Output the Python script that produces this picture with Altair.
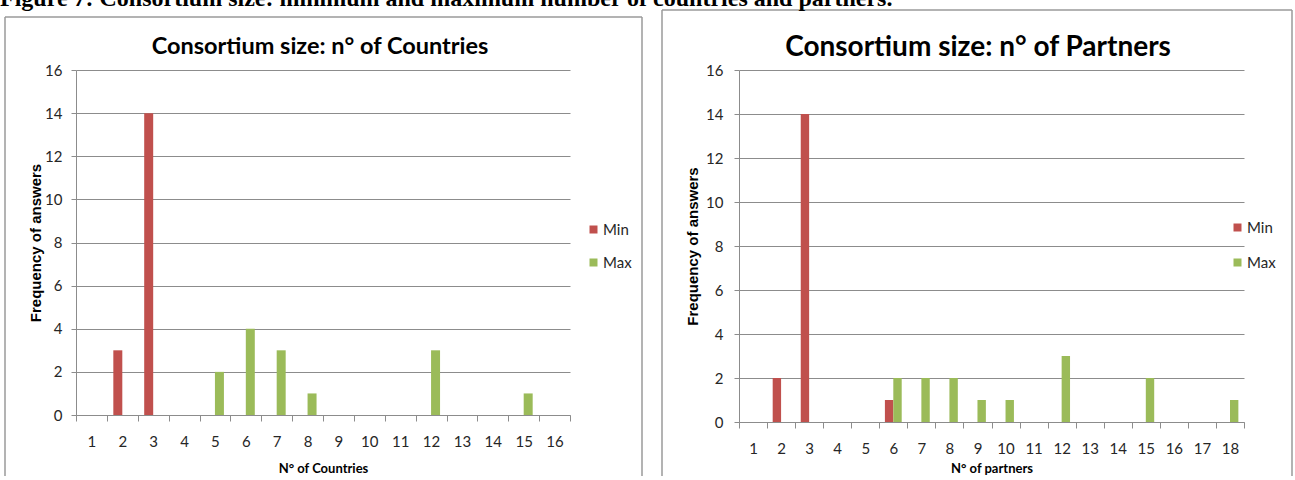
import altair as alt
import pandas as pd

# Consortium size measured in countries (x = size, value = number of answers)
country_axis = list(range(1, 17))
country_min_sizes = [2, 3]
country_min_counts = [3, 14]
country_max_sizes = [5, 6, 7, 8, 12, 15]
country_max_counts = [2, 4, 3, 1, 3, 1]

# Consortium size measured in partners
partner_axis = list(range(1, 19))
partner_min_sizes = [2, 3, 6]
partner_min_counts = [2, 14, 1]
partner_max_sizes = [6, 7, 8, 9, 10, 12, 15, 18]
partner_max_counts = [2, 2, 2, 1, 1, 3, 2, 1]

series_names = ["Min", "Max"]
series_colors = ["#C0504D", "#9BBB59"]
y_ticks = list(range(0, 17, 2))

caption_text = ("Figure 7: Consortium size: minimum and maximum number of "
                "countries and partners.")

SANS = "Lato"
GRID = "#8c8c8c"
FRAME = "#9a9a9a"
INK = "#262626"
W, H = 1295, 476

one = pd.DataFrame({"k": [0]})


def long_table(min_sizes, min_counts, max_sizes, max_counts):
    rows = [{"size": s, "series": "Min", "count": c}
            for s, c in zip(min_sizes, min_counts)]
    rows += [{"size": s, "series": "Max", "count": c}
             for s, c in zip(max_sizes, max_counts)]
    return pd.DataFrame(rows)


def border(x0, x1, y0):
    """Left, top and right edges of a chart area."""
    style = dict(color=FRAME, strokeWidth=1.5)
    return [
        alt.Chart(one).mark_rule(**style).encode(
            x=alt.value(x0), y=alt.value(y0), y2=alt.value(H)),
        alt.Chart(one).mark_rule(**style).encode(
            x=alt.value(x0), x2=alt.value(x1), y=alt.value(y0)),
        alt.Chart(one).mark_rule(**style).encode(
            x=alt.value(x1), y=alt.value(y0), y2=alt.value(H)),
    ]


def label(text, x, y, size, font=SANS, weight="bold", align="center"):
    return alt.Chart(one).mark_text(
        text=text, font=font, fontSize=size, fontWeight=weight,
        color="#000000", align=align, baseline="alphabetic",
    ).encode(x=alt.value(x), y=alt.value(y))


def bars(table, categories, x_range, y_range, offset_pad, x_title,
         x_title_y, y_title_x, y_label_pad, legend_x, legend_y, legend_gap):
    x_axis_offset = y_range[0] - H
    y_axis_offset = -x_range[0]
    return alt.Chart(table).mark_bar().encode(
        x=alt.X(
            "size:O",
            scale=alt.Scale(domain=categories, range=x_range,
                            paddingInner=0, paddingOuter=0),
            axis=alt.Axis(
                orient="bottom", offset=x_axis_offset, title=x_title,
                labelAngle=0, tickBand="extent", tickSize=6, tickColor=GRID,
                domainColor=GRID, grid=False, labelFont=SANS,
                labelFontSize=15, labelColor=INK, labelBaseline="middle",
                labelPadding=20, titleFont=SANS, titleFontSize=13,
                titleFontWeight="bold", titleColor="#000000",
                titleY=x_title_y, titleBaseline="middle"),
        ),
        xOffset=alt.XOffset(
            "series:N",
            scale=alt.Scale(domain=series_names, paddingInner=0,
                            paddingOuter=offset_pad)),
        y=alt.Y(
            "count:Q",
            scale=alt.Scale(domain=[0, 16], nice=False, range=y_range),
            axis=alt.Axis(
                orient="left", offset=y_axis_offset,
                title="Frequency of answers", values=y_ticks, grid=True,
                gridColor=GRID, gridWidth=1, tickColor=GRID, tickSize=5,
                domainColor=GRID, labelFont=SANS, labelFontSize=15,
                labelColor=INK, labelPadding=y_label_pad,
                titleFont="Liberation Sans", titleFontSize=15,
                titleFontWeight="bold", titleColor="#000000",
                titleX=y_title_x, titleBaseline="middle"),
        ),
        color=alt.Color(
            "series:N",
            scale=alt.Scale(domain=series_names, range=series_colors),
            legend=alt.Legend(
                title=None, orient="none", legendX=legend_x,
                legendY=legend_y, symbolType="square", symbolSize=64,
                symbolStrokeWidth=0, labelFont=SANS, labelFontSize=15,
                labelColor=INK, labelOffset=2, rowPadding=legend_gap),
        ),
    )


countries = long_table(country_min_sizes, country_min_counts,
                       country_max_sizes, country_max_counts)
partners = long_table(partner_min_sizes, partner_min_counts,
                      partner_max_sizes, partner_max_counts)

country_bars = bars(
    countries, country_axis, x_range=[76, 570], y_range=[415, 70],
    offset_pad=0.717, x_title="N° of Countries", x_title_y=53,
    y_title_x=-41, y_label_pad=9, legend_x=586, legend_y=222,
    legend_gap=17)

partner_bars = bars(
    partners, partner_axis, x_range=[739, 1244], y_range=[422, 70],
    offset_pad=0.67, x_title="N° of partners", x_title_y=46,
    y_title_x=-47, y_label_pad=11, legend_x=1230, legend_y=220,
    legend_gap=19)

layers = (
    border(5, 642, 17)
    + border(662, 1292, 10)
    + [
        label(caption_text, 0, 6, 24, font="Liberation Serif", align="left"),
        label("Consortium size: n° of Countries", 320, 54, 23.5),
        label("Consortium size: n° of Partners", 978, 56, 28),
        country_bars,
        partner_bars,
    ]
)

chart = (
    alt.layer(*layers)
    .resolve_scale(x="independent", y="independent",
                   xOffset="independent", color="independent")
    .resolve_axis(x="independent", y="independent")
    .resolve_legend(color="independent")
    .properties(width=W, height=H, padding=0,
                autosize=alt.AutoSizeParams(type="none"))
    .configure_view(stroke=None)
)

chart.save("out.html", embed_options={"renderer": "svg", "actions": False})
